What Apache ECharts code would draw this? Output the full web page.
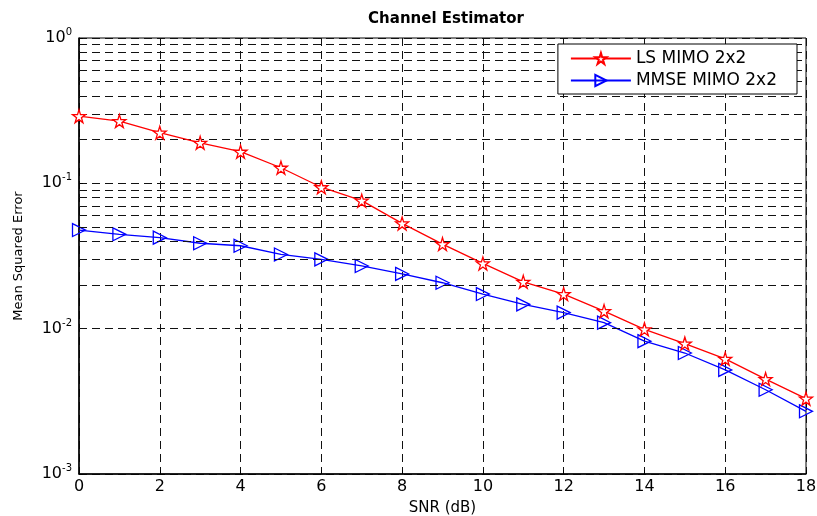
<!DOCTYPE html>
<html>
<head>
<meta charset="utf-8">
<script src="https://cdn.jsdelivr.net/npm/echarts@6/dist/echarts.min.js"></script>
<style>
  html, body { margin: 0; padding: 0; background: #fff; }
  #chart { width: 817px; height: 516px; }
</style>
</head>
<body>
<div id="chart"></div>
<script>
// data
const snr = [0, 1, 2, 3, 4, 5, 6, 7, 8, 9, 10, 11, 12, 13, 14, 15, 16, 17, 18];
const lsMimo = [0.29, 0.268, 0.223, 0.19, 0.165, 0.128, 0.094, 0.076, 0.053, 0.0382, 0.0281,
  0.021, 0.0173, 0.0132, 0.0099, 0.0079, 0.0062, 0.0045, 0.0033];
const mmseMimo = [0.0477, 0.0446, 0.0423, 0.0387, 0.0372, 0.0324, 0.030, 0.027, 0.0238, 0.0207,
  0.0173, 0.0147, 0.0129, 0.011, 0.0082, 0.0068, 0.0052, 0.0038, 0.0027];
// log minor grid lines
const minorGrid = [0.002, 0.003, 0.004, 0.005, 0.006, 0.007, 0.008, 0.009,
  0.02, 0.03, 0.04, 0.05, 0.06, 0.07, 0.08, 0.09,
  0.2, 0.3, 0.4, 0.5, 0.6, 0.7, 0.8, 0.9];

const font = "DejaVu Sans";
const dash = [8, 5];
const starPath = "path://M50,0 L61,35 L98,35 L68,57 L79,91 L50,70 L21,91 L32,57 L2,35 L39,35 Z";
const triPath = "path://M0,0 L100,50 L0,100 Z";

const chart = echarts.init(document.getElementById("chart"));

function pair(arr) {
  return snr.map((x, i) => [x, arr[i]]);
}

const option = {
  animation: false,
  backgroundColor: "#fff",
  textStyle: { fontFamily: font },
  title: {
    text: "Channel Estimator",
    left: 441, top: 7, textAlign: "center",
    textStyle: { fontFamily: font, fontSize: 15, fontWeight: "bold", color: "#000" }
  },
  grid: {
    left: 79, right: 11, top: 38, bottom: 42,
    outerBoundsMode: "none",
    show: true, borderColor: "#000", borderWidth: 1
  },
  legend: {
    orient: "vertical",
    right: 20, top: 44,
    z: 20,
    padding: [6, 20, 5, 12],
    itemGap: 5,
    itemWidth: 60, itemHeight: 14,
    backgroundColor: "#fff",
    borderColor: "#000", borderWidth: 1,
    textStyle: { fontFamily: font, fontSize: 17, color: "#000" },
    data: ["LS MIMO 2x2", "MMSE MIMO 2x2"]
  },
  xAxis: {
    type: "value", min: 0, max: 18, interval: 2,
    name: "SNR (dB)", nameLocation: "middle", nameGap: 27,
    nameTextStyle: { fontFamily: font, fontSize: 15, color: "#000" },
    axisLine: { lineStyle: { color: "#000", width: 1.5 } },
    axisTick: { inside: true, length: 4, lineStyle: { color: "#000" } },
    axisLabel: { fontFamily: font, fontSize: 16, color: "#000", margin: 5 },
    splitLine: { show: true, lineStyle: { color: "#111", type: dash } }
  },
  yAxis: {
    type: "log", logBase: 10, min: 0.001, max: 1,
    name: "Mean Squared Error", nameLocation: "middle", nameGap: 54,
    nameTextStyle: { fontFamily: font, fontSize: 13, color: "#000" },
    axisLine: { show: true, lineStyle: { color: "#000", width: 1.5 } },
    axisTick: { inside: true, length: 4, lineStyle: { color: "#000" } },
    axisLabel: {
      margin: 7,
      formatter: function (v) {
        const e = Math.round(Math.log10(v));
        return "{b|10}{s|" + e + "}";
      },
      rich: {
        b: { fontFamily: font, fontSize: 16, color: "#000" },
        s: { fontFamily: font, fontSize: 10, color: "#000", padding: [0, 0, 11, 0] }
      }
    },
    splitLine: { show: true, lineStyle: { color: "#111", type: dash } }
  },
  series: [
    {
      name: "LS MIMO 2x2",
      type: "line",
      data: pair(lsMimo),
      symbol: starPath,
      symbolSize: 13,
      lineStyle: { color: "#ff0000", width: 1.3 },
      itemStyle: { color: "#fff", borderColor: "#ff0000", borderWidth: 1.3 },
      z: 5,
      markLine: {
        silent: true,
        symbol: "none",
        label: { show: false },
        lineStyle: { color: "#111", type: dash, width: 1 },
        data: minorGrid.map(v => ({ yAxis: v }))
      }
    },
    {
      name: "MMSE MIMO 2x2",
      type: "line",
      data: pair(mmseMimo),
      symbol: triPath,
      symbolSize: [13, 13],
      lineStyle: { color: "#0000ff", width: 1.3 },
      itemStyle: { color: "rgba(255,255,255,0)", borderColor: "#0000ff", borderWidth: 1.3 },
      z: 4
    }
  ]
};

chart.setOption(option);
window.addEventListener("resize", function () {
  chart.resize();
});
</script>
</body>
</html>
